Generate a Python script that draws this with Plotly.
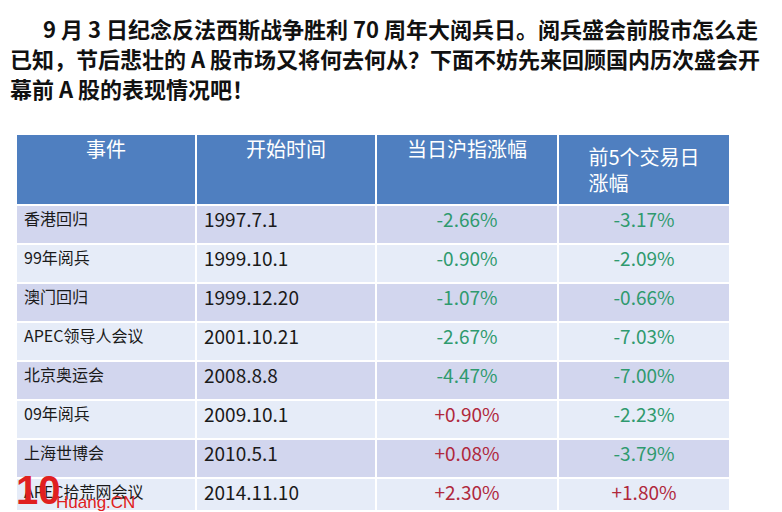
import plotly.graph_objects as go

header = ["事件", "开始时间", "当日沪指涨幅", "前5个交易日<br>涨幅"]
events = ["香港回归", "99年阅兵", "澳门回归", "APEC领导人会议", "北京奥运会", "09年阅兵", "上海世博会", "APEC拾荒网会议"]
dates = ["1997.7.1", "1999.10.1", "1999.12.20", "2001.10.21", "2008.8.8", "2009.10.1", "2010.5.1", "2014.11.10"]
day_chg = ["-2.66%", "-0.90%", "-1.07%", "-2.67%", "-4.47%", "+0.90%", "+0.08%", "+2.30%"]
five_chg = ["-3.17%", "-2.09%", "-0.66%", "-7.03%", "-7.00%", "-2.23%", "-3.79%", "+1.80%"]

W, H = 782, 512
def col(v): return "#b0283c" if v.startswith("+") else "#2f9a6e"
rowfill = ["#d2d6ee" if i % 2 == 0 else "#e6ecf8" for i in range(len(events))]
cell_font_col = [["#1a1a1a"]*8, ["#1a1a1a"]*8, [col(v) for v in day_chg], [col(v) for v in five_chg]]

fig = go.Figure(go.Table(
    domain=dict(x=[8/W, 722/W], y=[1-502/H, 1-126/H]),
    columnwidth=[180, 180, 182, 172],
    header=dict(values=header, fill_color="#4f7fc0", line=dict(color="white", width=2),
                font=dict(family="Noto Sans CJK SC", size=20, color="white"), align="center", height=60),
    cells=dict(values=[events, dates, day_chg, five_chg],
               fill_color=[rowfill]*4, line=dict(color="white", width=2),
               font=dict(family="Noto Sans CJK SC", size=[16, 19, 19, 19], color=cell_font_col),
               align=["left", "left", "center", "center"], height=39)
))

lines = ["9 月 3 日纪念反法西斯战争胜利 70 周年大阅兵日。阅兵盛会前股市怎么走",
         "已知，节后悲壮的 A 股市场又将何去何从？下面不妨先来回顾国内历次盛会开",
         "幕前 A 股的表现情况吧！"]
xs = [33, 0, 0]
ys = [20, 50, 80]
for t, x, y in zip(lines, xs, ys):
    fig.add_annotation(text="<b>"+t+"</b>", x=x/W, y=1-y/H, xref="paper", yref="paper",
                       xanchor="left", yanchor="middle", showarrow=False,
                       font=dict(family="Noto Sans CJK SC", size=22, color="#111"))
fig.add_annotation(text="<b>10</b>", x=6/W, y=1-482/H, xref="paper", yref="paper", xanchor="left",
                   yanchor="middle", showarrow=False, font=dict(family="Liberation Sans", size=40, color="#e02020"))
fig.add_annotation(text="Huang.CN", x=46/W, y=1-494/H, xref="paper", yref="paper", xanchor="left",
                   yanchor="middle", showarrow=False, font=dict(family="Liberation Sans", size=17, color="#e02020"))

fig.update_layout(width=W, height=H, margin=dict(l=0, r=0, t=0, b=0),
                  paper_bgcolor="white", plot_bgcolor="white")
fig.write_html("out.html")
